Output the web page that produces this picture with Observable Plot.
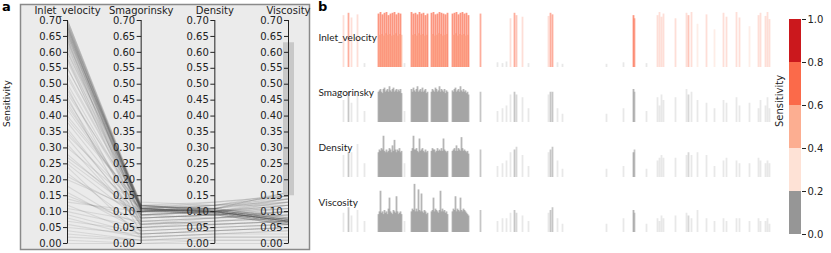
<!DOCTYPE html>
<html>
<head>
<meta charset="utf-8">
<script src="https://cdn.jsdelivr.net/npm/d3@7"></script>
<script src="https://cdn.jsdelivr.net/npm/@observablehq/plot@0.6"></script>
<style>
  html, body { margin: 0; padding: 0; background: #fff; }
  #wrap { position: relative; width: 831px; height: 253px; overflow: hidden; font-family: "DejaVu Sans", sans-serif; }
  .panel { position: absolute; }
  .tag { position: absolute; font: bold 13px/13px "DejaVu Sans", sans-serif; color: #000; }
</style>
</head>
<body>
<div id="wrap">
  <div id="pa" class="panel" style="left:0;top:0"></div>
  <div id="rows" class="panel" style="left:315px;top:12px"></div>
  <div id="cbar" class="panel" style="left:760px;top:0"></div>
  <div class="tag" style="left:2px;top:0px">a</div>
  <div class="tag" style="left:318px;top:0px">b</div>
</div>
<script>
// ---------- Panel a: parallel coordinates ----------
const axisNames = ["Inlet_velocity", "Smagorinsky", "Density", "Viscosity"];
const yTicks = [0, 0.05, 0.10, 0.15, 0.20, 0.25, 0.30, 0.35, 0.40, 0.45, 0.50, 0.55, 0.60, 0.65, 0.70];
const viscositySelection = [0.15, 0.63];

const pcInlet = [
  0.70,0.70,0.69,0.69,0.69,0.68,0.68,0.68,0.67,0.67,0.67,0.66,0.66,0.65,0.65,0.64,0.64,0.63,0.62,0.61,0.70,0.69,0.68,0.67,0.66,0.65,0.63,0.60,0.58,0.55,
  0.50,0.45,0.40,0.35,0.30,0.25,0.20,0.15,0.10,0.05,0.02,0.00,0.55,0.48,0.38,0.28,0.18,0.08,0.03,0.60,0.52,0.42,0.33,0.22,0.12,0.06,0.01,0.47,0.36,0.26,0.16,0.09,0.04,0.57,0.44,
  0.62,0.58,0.53,0.49,0.43,0.39,0.31,0.27,0.21,0.14,0.11,0.07,0.66,0.64,0.59,0.34,0.24,0.13,0.46,0.68
];
const pcSmag = [
  0.12,0.11,0.115,0.11,0.105,0.12,0.11,0.105,0.115,0.11,0.10,0.12,0.11,0.105,0.115,0.11,0.10,0.11,0.105,0.11,0.118,0.108,0.112,0.102,0.118,0.108,0.112,0.10,0.11,0.105,
  0.10,0.09,0.12,0.08,0.11,0.07,0.10,0.06,0.05,0.03,0.01,0.00,0.12,0.10,0.09,0.08,0.04,0.02,0.01,0.13,0.11,0.10,0.06,0.05,0.03,0.02,0.00,0.12,0.07,0.09,0.04,0.03,0.01,0.105,0.08,
  0.09,0.06,0.11,0.05,0.10,0.12,0.06,0.10,0.09,0.08,0.07,0.04,0.08,0.05,0.09,0.11,0.02,0.10,0.03,0.07
];
const pcDensity = [
  0.105,0.10,0.11,0.095,0.10,0.105,0.10,0.09,0.11,0.10,0.095,0.105,0.10,0.09,0.11,0.10,0.095,0.105,0.10,0.09,0.11,0.10,0.095,0.105,0.10,0.09,0.10,0.105,0.095,0.10,
  0.12,0.10,0.11,0.09,0.13,0.08,0.10,0.07,0.06,0.04,0.02,0.01,0.12,0.11,0.10,0.09,0.05,0.03,0.01,0.12,0.10,0.11,0.07,0.06,0.04,0.03,0.00,0.13,0.08,0.10,0.05,0.04,0.02,0.11,0.09,
  0.10,0.08,0.12,0.06,0.11,0.10,0.07,0.12,0.08,0.09,0.06,0.05,0.09,0.07,0.10,0.12,0.03,0.11,0.04,0.08
];
const pcViscosity = [
  0.075,0.07,0.08,0.065,0.07,0.075,0.07,0.06,0.085,0.07,0.065,0.075,0.07,0.06,0.08,0.07,0.065,0.075,0.07,0.06,0.08,0.07,0.065,0.075,0.07,0.06,0.07,0.075,0.065,0.07,
  0.14,0.12,0.16,0.10,0.15,0.09,0.13,0.08,0.07,0.05,0.02,0.01,0.13,0.15,0.11,0.10,0.06,0.04,0.01,0.12,0.14,0.16,0.08,0.07,0.05,0.03,0.00,0.15,0.09,0.12,0.06,0.05,0.02,0.13,0.11,
  0.12,0.10,0.15,0.07,0.14,0.11,0.08,0.16,0.10,0.12,0.07,0.06,0.11,0.09,0.13,0.15,0.04,0.14,0.05,0.10
];

// ---------- Panel b: per-run sensitivity barcodes ----------
const runIndex = [
  3, 8, 11, 17, 24,
  38,39,40,41,42,43,44,45,46,47,48,49,50,51,52,53,54,55,56,57,58,59,60,61,
  64,
  71,72,73,74,75,76,77,78,79,80,81,82,83,84,85,86,87,
  91,92,93,94,95,96,97,98,99,100,101,102,103,104,105,106,107,
  112,113,114,115,116,117,118,119,120,121,122,123,124,125,126,127,128,
  140,157,162,166,170,174,176,182,188,208,210,212,217,222,266,283,293,294,306,317,
  319,321,323,335,346,348,351,357,366,374,383,386,396,399,409,418,420,425,427,429
];
const inletVelocity = [
  0.66,0.69,0.63,0.67,0.05,
  0.68,0.41,0.70,0.42,0.67,0.40,0.69,0.43,0.70,0.41,0.66,0.42,0.68,0.40,0.69,0.41,0.70,0.43,0.67,0.40,0.69,0.42,0.68,0.41,
  0.05,
  0.70,0.41,0.68,0.42,0.69,0.40,0.67,0.43,0.70,0.41,0.68,0.42,0.69,0.40,0.66,0.41,0.68,
  0.69,0.42,0.70,0.40,0.67,0.41,0.68,0.43,0.70,0.42,0.69,0.40,0.68,0.41,0.67,0.42,0.69,
  0.68,0.41,0.69,0.43,0.70,0.40,0.67,0.42,0.69,0.41,0.70,0.42,0.68,0.40,0.69,0.41,0.66,
  0.68,0.06,0.05,0.07,0.62,0.69,0.66,0.64,0.05,0.65,0.69,0.67,0.06,0.04,0.04,0.06,0.66,0.62,0.05,0.66,
  0.70,0.64,0.68,0.62,0.69,0.66,0.70,0.55,0.67,0.48,0.69,0.64,0.70,0.63,0.52,0.66,0.69,0.65,0.70,0.61
];
const smagorinsky = [
  0.08,0.11,0.07,0.10,0.04,
  0.110,0.115,0.120,0.110,0.105,0.120,0.125,0.110,0.115,0.120,0.110,0.130,0.115,0.110,0.120,0.125,0.110,0.115,0.120,0.110,0.118,0.112,0.120,0.105,
  0.04,
  0.120,0.110,0.125,0.115,0.110,0.120,0.130,0.110,0.115,0.120,0.110,0.125,0.110,0.115,0.120,0.105,0.110,
  0.110,0.120,0.115,0.110,0.125,0.120,0.110,0.115,0.130,0.110,0.120,0.115,0.110,0.120,0.105,0.115,0.110,
  0.115,0.110,0.120,0.125,0.110,0.115,0.120,0.110,0.130,0.115,0.110,0.120,0.110,0.115,0.105,0.110,0.100,
  0.11,0.04,0.05,0.06,0.10,0.11,0.10,0.09,0.05,0.10,0.11,0.11,0.05,0.03,0.03,0.05,0.12,0.11,0.04,0.09,
  0.06,0.10,0.08,0.09,0.12,0.10,0.11,0.08,0.07,0.05,0.08,0.07,0.09,0.06,0.07,0.05,0.08,0.06,0.09,0.05
];
const density = [
  0.08,0.09,0.09,0.12,0.05,
  0.090,0.100,0.095,0.105,0.100,0.150,0.095,0.090,0.100,0.090,0.095,0.105,0.100,0.090,0.115,0.095,0.135,0.100,0.090,0.100,0.095,0.105,0.090,0.095,
  0.05,
  0.095,0.105,0.150,0.100,0.100,0.105,0.095,0.090,0.140,0.095,0.100,0.105,0.095,0.090,0.100,0.090,0.095,
  0.095,0.105,0.100,0.100,0.090,0.095,0.105,0.095,0.100,0.095,0.105,0.095,0.140,0.100,0.095,0.090,0.095,
  0.095,0.100,0.105,0.095,0.115,0.095,0.105,0.100,0.095,0.145,0.105,0.095,0.100,0.095,0.090,0.095,0.085,
  0.10,0.04,0.05,0.06,0.09,0.10,0.11,0.08,0.04,0.09,0.10,0.11,0.06,0.03,0.03,0.04,0.09,0.10,0.03,0.06,
  0.07,0.08,0.07,0.07,0.08,0.09,0.08,0.09,0.08,0.04,0.06,0.07,0.06,0.05,0.05,0.07,0.06,0.05,0.06,0.05
];
const viscosity = [
  0.07,0.09,0.06,0.08,0.04,
  0.065,0.075,0.150,0.070,0.075,0.065,0.080,0.070,0.075,0.065,0.085,0.125,0.075,0.070,0.065,0.080,0.075,0.070,0.130,0.075,0.065,0.070,0.075,0.065,
  0.04,
  0.075,0.085,0.080,0.175,0.075,0.085,0.075,0.155,0.080,0.075,0.140,0.075,0.070,0.080,0.075,0.065,0.070,
  0.075,0.080,0.125,0.075,0.085,0.080,0.075,0.070,0.080,0.150,0.075,0.085,0.075,0.080,0.070,0.075,0.065,
  0.075,0.085,0.080,0.130,0.075,0.085,0.080,0.075,0.125,0.080,0.075,0.085,0.080,0.075,0.070,0.065,0.060,
  0.08,0.04,0.05,0.05,0.07,0.08,0.07,0.06,0.04,0.07,0.08,0.09,0.05,0.03,0.03,0.05,0.08,0.07,0.03,0.05,
  0.04,0.06,0.05,0.06,0.07,0.06,0.05,0.08,0.05,0.04,0.05,0.04,0.05,0.05,0.04,0.05,0.04,0.04,0.05,0.03
];
const runs = [
  1,3,1,1,1,
  4,4,4,4,4,4,4,4,4,4,4,4,4,4,4,4,4,4,4,4,4,4,4,4,
  1,
  4,4,4,4,4,4,4,4,4,4,4,4,4,4,4,4,4,
  4,4,4,4,4,4,4,4,4,4,4,4,4,4,4,4,4,
  4,4,4,4,4,4,4,4,4,4,4,4,4,4,4,4,4,
  3,1,1,1,1,3,2,1,1,1,3,3,1,1,1,1,4,3,1,1,
  1,1,1,1,1,2,1,1,1,1,1,1,1,1,1,1,1,1,1,1
];
const rowNames = ["Inlet_velocity", "Smagorinsky", "Density", "Viscosity"];
const rowValues = [inletVelocity, smagorinsky, density, viscosity];
const rowMax = [0.7, 0.2, 0.2, 0.2];

// ---------- Colour bar ----------
const colorBreaks = [0, 0.2, 0.4, 0.6, 0.8, 1.0];
const colorRange = ["#969696", "#fee2d6", "#fcae91", "#fb6a4a", "#cb181d"];
const colorTicks = [0, 0.2, 0.4, 0.6, 0.8, 1.0];

const colorScale = {type: "threshold", domain: colorBreaks.slice(1, -1), range: colorRange};
const fontStyle = {fontFamily: "DejaVu Sans", fontSize: "10px", background: "transparent", overflow: "visible", color: "#222"};

// Panel a
const pcPoints = pcInlet.flatMap((_, i) =>
  [pcInlet[i], pcSmag[i], pcDensity[i], pcViscosity[i]].map((v, j) => ({id: i, axis: j, value: v})));
const axisIdx = axisNames.map((_, i) => i);
const tickPts = axisIdx.flatMap(a => yTicks.map(t => ({axis: a, value: t})));
const tickMark = {draw(ctx) { ctx.moveTo(-4.5, 0); ctx.lineTo(0, 0); }};

const pa = Plot.plot({
  width: 312, height: 253,
  marginLeft: 20, marginRight: 3, marginTop: 4, marginBottom: 4,
  style: fontStyle,
  x: {domain: [0, 3], insetLeft: 47, insetRight: 21, axis: null},
  y: {domain: [0, 0.7], insetTop: 16, insetBottom: 6, axis: null},
  marks: [
    Plot.frame({fill: "#ebebeb", stroke: "#8a8a8a", strokeWidth: 1.5}),
    Plot.line(pcPoints, {x: "axis", y: "value", z: "id", stroke: "#4a4a4a", strokeOpacity: 0.13, strokeWidth: 1.1}),
    Plot.ruleX([3], {y1: viscositySelection[0], y2: viscositySelection[1], stroke: "#c4c4c4", strokeWidth: 11, strokeOpacity: 0.9}),
    Plot.ruleX(axisIdx, {y1: yTicks[0], y2: yTicks[yTicks.length - 1], stroke: "#222", strokeWidth: 1}),
    Plot.dot(tickPts, {x: "axis", y: "value", symbol: tickMark, fill: "none", stroke: "#222", strokeWidth: 1}),
    Plot.text(tickPts, {x: "axis", y: "value", text: d => d.value.toFixed(2), dx: -6, textAnchor: "end", fill: "#222", fontSize: 10}),
    Plot.text(axisNames, {x: (d, i) => i, frameAnchor: "top", lineAnchor: "middle", dy: 6.5, text: d => d, fill: "#222", fontSize: 10}),
    Plot.text(["Sensitivity"], {frameAnchor: "left", dx: -13, rotate: -90, text: d => d, fill: "#222", fontSize: 9})
  ]
});
document.getElementById("pa").appendChild(pa);

// Panel b rows
const rowsDiv = document.getElementById("rows");
rowNames.forEach((name, r) => {
  const vals = rowValues[r];
  const data = runIndex.map((idx, i) => ({idx, value: vals[i], runs: runs[i]}));
  const p = Plot.plot({
    width: 460, height: 55,
    marginLeft: 25, marginRight: 5, marginTop: 0, marginBottom: 0,
    style: fontStyle,
    x: {domain: [0, 430], axis: null},
    y: {domain: [0, rowMax[r]], axis: null},
    color: colorScale,
    opacity: {type: "linear", domain: [1, 4], range: [0.22, 0.7]},
    marks: [
      Plot.ruleX(data, {x: "idx", y1: 0, y2: "value", stroke: "value", strokeOpacity: "runs", strokeWidth: 1.8}),
      Plot.text([name], {frameAnchor: "left", dx: -22, dy: -2.5, textAnchor: "start", text: d => d, fontFamily: "Lato", fontSize: 10, fill: "#222"})
    ]
  });
  p.style.display = "block";
  rowsDiv.appendChild(p);
});

// Colour bar
const bands = colorBreaks.slice(0, -1).map((lo, i) => ({lo, hi: colorBreaks[i + 1]}));
const cb = Plot.plot({
  width: 71, height: 253,
  marginLeft: 29, marginRight: 30, marginTop: 19, marginBottom: 19,
  style: fontStyle,
  color: colorScale,
  y: {domain: [0, 1], axis: "right", ticks: colorTicks, tickFormat: d => d.toFixed(1), tickSize: 4, tickPadding: 2, label: null},
  marks: [
    Plot.rect(bands, {y1: "lo", y2: "hi", fill: d => (d.lo + d.hi) / 2}),
    Plot.text(["Sensitivity"], {frameAnchor: "left", dx: -10, rotate: -90, text: d => d, fill: "#222", fontSize: 10})
  ]
});
document.getElementById("cbar").appendChild(cb);
</script>
</body>
</html>
